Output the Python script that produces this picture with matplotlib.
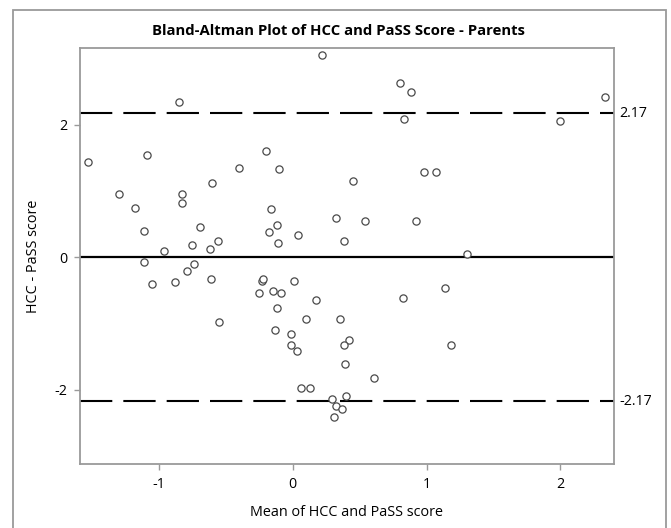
import matplotlib
matplotlib.use("Agg")
import matplotlib.pyplot as plt
from matplotlib.patches import Rectangle

plt.rcParams['font.family'] = ['Open Sans', 'DejaVu Sans']

title = "Bland-Altman Plot of HCC and PaSS Score - Parents"
xlabel = "Mean of HCC and PaSS score"
ylabel = "HCC - PaSS score"

mean_vals = [
    0.22, -0.85, -1.53, -1.09, -1.30, -1.18, -1.11, -0.83, -0.83, -0.96,
    -0.69, -0.75, -0.60, -0.62, -0.56, -0.40, -0.20, -0.10, -0.16, -0.12,
    -0.18, -0.11, 0.04, 0.32, 0.38, 0.45, 0.80, 0.88, 0.83, 2.00,
    2.33, 0.98, 1.07, 0.54, 0.92, 1.30, -1.11, -1.05, -0.88, -0.79,
    -0.74, -0.61, -0.55, -0.23, -0.22, -0.25, -0.15, -0.09, -0.12, 0.01,
    0.17, -0.13, 0.10, 0.35, -0.01, -0.01, 0.03, 0.42, 0.38, 0.39,
    0.06, 0.13, 0.40, 0.29, 0.32, 0.37, 0.31, 1.14, 0.82, 1.18,
    0.61,
]
diff_vals = [
    3.05, 2.34, 1.44, 1.54, 0.96, 0.74, 0.39, 0.95, 0.82, 0.09,
    0.45, 0.18, 1.12, 0.12, 0.25, 1.35, 1.60, 1.33, 0.73, 0.49,
    0.38, 0.21, 0.34, 0.59, 0.24, 1.15, 2.63, 2.49, 2.08, 2.05,
    2.41, 1.28, 1.29, 0.55, 0.54, 0.05, -0.07, -0.41, -0.37, -0.21,
    -0.11, -0.33, -0.98, -0.36, -0.33, -0.54, -0.51, -0.54, -0.77, -0.36,
    -0.65, -1.10, -0.94, -0.93, -1.16, -1.32, -1.41, -1.25, -1.33, -1.61,
    -1.98, -1.98, -2.09, -2.14, -2.24, -2.29, -2.41, -0.46, -0.62, -1.32,
    -1.82,
]
mean_diff = 0.0
upper_loa = 2.17
lower_loa = -2.17
xticks = [-1, 0, 1, 2]
yticks = [-2, 0, 2]

fig = plt.figure(figsize=(6.71, 5.28), dpi=100)
ax = fig.add_axes([80/671, 1 - 464/528, (614-80)/671, (464-47.7)/528])

gray = '#9a9a9a'
# outer frame
fig.patches.append(Rectangle((13/671, -0.02), (666-13)/671, 1 - 10/528 + 0.02,
                             transform=fig.transFigure, fill=False,
                             edgecolor=gray, linewidth=1.3, zorder=0))

ax.axhline(mean_diff, color='black', linewidth=1.6, zorder=2)
for v in (upper_loa, lower_loa):
    ax.axhline(v, color='black', linewidth=1.5, linestyle=(0, (15.5, 5.3)), zorder=2)

ax.plot(mean_vals, diff_vals, linestyle='none', marker='o', markersize=5.2,
        markerfacecolor='white', markeredgecolor='#4a4a4a', markeredgewidth=0.9, zorder=3)

ax.set_xlim(-1.59, 2.40)
ax.set_ylim(-3.12, 3.16)
ax.set_xticks(xticks)
ax.set_yticks(yticks)
ax.set_xticklabels([str(t) for t in xticks])
ax.set_yticklabels([str(t) for t in yticks])
ax.tick_params(direction='out', length=4, width=1, color=gray, labelsize=10.3, pad=5)
for s in ax.spines.values():
    s.set_color(gray)
    s.set_linewidth(1.3)

ax.set_xlabel(xlabel, fontsize=10.4, labelpad=10)
ax.set_ylabel(ylabel, fontsize=10.4, labelpad=10)

for v in (upper_loa, lower_loa):
    ax.text(1.01, v, f"{v:.2f}", transform=ax.get_yaxis_transform(),
            ha='left', va='center', fontsize=10.3)

fig.text(339/671, 1 - 31/528, title, ha='center', va='center',
         fontsize=10.7, fontweight='bold')

fig.savefig('out.png', dpi=100)
